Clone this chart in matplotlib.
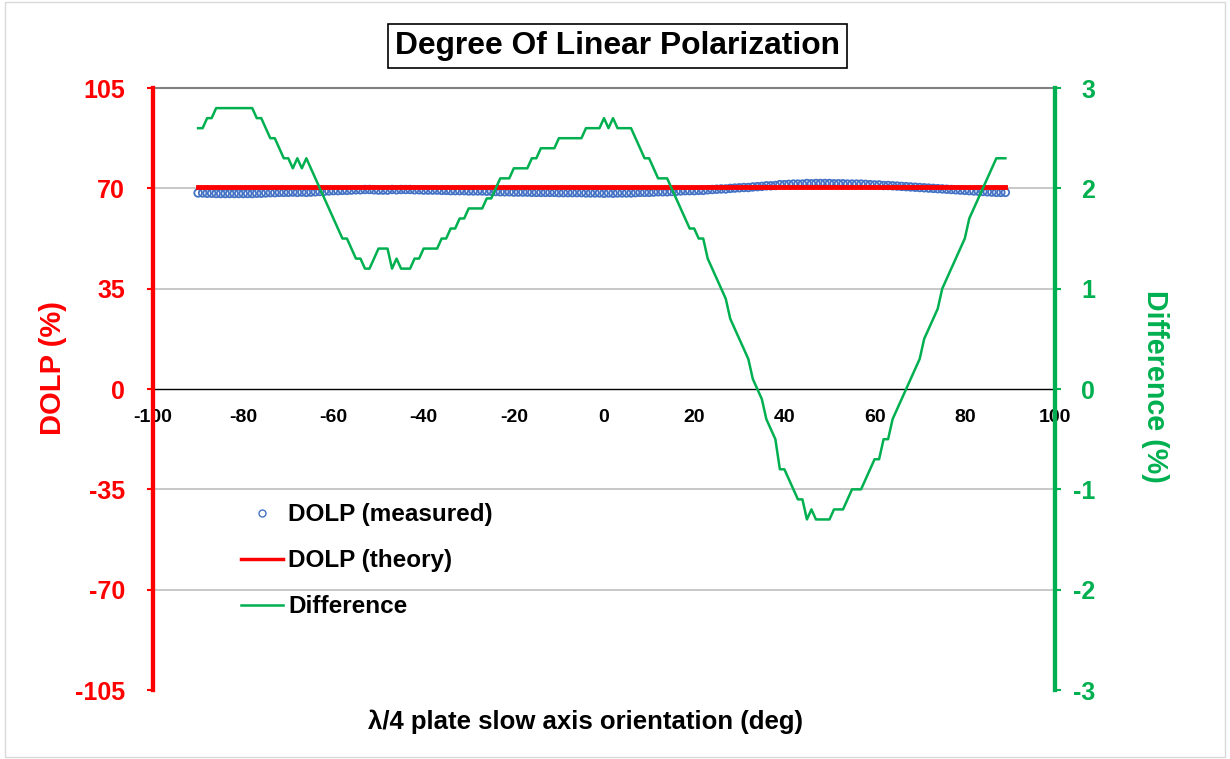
import matplotlib
matplotlib.use("Agg")
import matplotlib.pyplot as plt
from matplotlib.lines import Line2D

plt.rcParams['font.family'] = ['Liberation Sans', 'DejaVu Sans']
plt.rcParams['font.weight'] = 'bold'
plt.rcParams['axes.unicode_minus'] = False

# waveplate angle (deg), one sample per degree
angles = list(range(-90, 90))

# measured DOLP (%)
dolp_measured = [
    68.4, 68.4, 68.3, 68.3, 68.2, 68.2, 68.2, 68.2, 68.2, 68.2,
    68.2, 68.2, 68.2, 68.3, 68.3, 68.4, 68.5, 68.5, 68.6, 68.6,
    68.6, 68.7, 68.6, 68.7, 68.6, 68.7, 68.8, 68.9, 69.0, 69.1,
    69.2, 69.2, 69.3, 69.3, 69.4, 69.5, 69.5, 69.6, 69.6, 69.5,
    69.4, 69.4, 69.4, 69.6, 69.5, 69.6, 69.6, 69.6, 69.5, 69.5,
    69.4, 69.4, 69.4, 69.4, 69.3, 69.3, 69.2, 69.2, 69.2, 69.2,
    69.1, 69.1, 69.1, 69.1, 69.0, 69.0, 68.9, 68.8, 68.8, 68.8,
    68.7, 68.7, 68.7, 68.7, 68.6, 68.6, 68.6, 68.6, 68.6, 68.6,
    68.5, 68.5, 68.5, 68.5, 68.5, 68.5, 68.4, 68.4, 68.4, 68.4,
    68.3, 68.4, 68.3, 68.4, 68.4, 68.4, 68.4, 68.5, 68.6, 68.6,
    68.6, 68.7, 68.8, 68.8, 68.8, 68.9, 69.0, 69.1, 69.2, 69.2,
    69.2, 69.3, 69.3, 69.5, 69.6, 69.7, 69.8, 69.8, 70.0, 70.1,
    70.2, 70.3, 70.3, 70.5, 70.6, 70.7, 70.9, 70.9, 71.0, 71.3,
    71.3, 71.4, 71.5, 71.5, 71.5, 71.7, 71.6, 71.7, 71.7, 71.7,
    71.7, 71.6, 71.6, 71.6, 71.5, 71.5, 71.5, 71.5, 71.4, 71.3,
    71.2, 71.2, 71.0, 71.0, 70.9, 70.8, 70.7, 70.6, 70.5, 70.4,
    70.3, 70.2, 70.1, 70.0, 69.9, 69.8, 69.7, 69.6, 69.5, 69.4,
    69.3, 69.2, 69.1, 69.0, 68.9, 68.8, 68.7, 68.6, 68.6, 68.6,
]

# theoretical DOLP (%), flat red line
dolp_theory = [70.6] * len(angles)

# difference (%), right axis
difference = [
    2.6, 2.6, 2.7, 2.7, 2.8, 2.8, 2.8, 2.8, 2.8, 2.8,
    2.8, 2.8, 2.8, 2.7, 2.7, 2.6, 2.5, 2.5, 2.4, 2.3,
    2.3, 2.2, 2.3, 2.2, 2.3, 2.2, 2.1, 2.0, 1.9, 1.8,
    1.7, 1.6, 1.5, 1.5, 1.4, 1.3, 1.3, 1.2, 1.2, 1.3,
    1.4, 1.4, 1.4, 1.2, 1.3, 1.2, 1.2, 1.2, 1.3, 1.3,
    1.4, 1.4, 1.4, 1.4, 1.5, 1.5, 1.6, 1.6, 1.7, 1.7,
    1.8, 1.8, 1.8, 1.8, 1.9, 1.9, 2.0, 2.1, 2.1, 2.1,
    2.2, 2.2, 2.2, 2.2, 2.3, 2.3, 2.4, 2.4, 2.4, 2.4,
    2.5, 2.5, 2.5, 2.5, 2.5, 2.5, 2.6, 2.6, 2.6, 2.6,
    2.7, 2.6, 2.7, 2.6, 2.6, 2.6, 2.6, 2.5, 2.4, 2.3,
    2.3, 2.2, 2.1, 2.1, 2.1, 2.0, 1.9, 1.8, 1.7, 1.6,
    1.6, 1.5, 1.5, 1.3, 1.2, 1.1, 1.0, 0.9, 0.7, 0.6,
    0.5, 0.4, 0.3, 0.1, 0.0, -0.1, -0.3, -0.4, -0.5, -0.8,
    -0.8, -0.9, -1.0, -1.1, -1.1, -1.3, -1.2, -1.3, -1.3, -1.3,
    -1.3, -1.2, -1.2, -1.2, -1.1, -1.0, -1.0, -1.0, -0.9, -0.8,
    -0.7, -0.7, -0.5, -0.5, -0.3, -0.2, -0.1, 0.0, 0.1, 0.2,
    0.3, 0.5, 0.6, 0.7, 0.8, 1.0, 1.1, 1.2, 1.3, 1.4,
    1.5, 1.7, 1.8, 1.9, 2.0, 2.1, 2.2, 2.3, 2.3, 2.3,
]

x_ticks = [-100, -80, -60, -40, -20, 0, 20, 40, 60, 80, 100]
left_ticks = [-105, -70, -35, 0, 35, 70, 105]
right_ticks = [-3, -2, -1, 0, 1, 2, 3]

RED = '#FF0000'
GREEN = '#00B050'
BLUE = '#4472C4'

fig = plt.figure(figsize=(12.3, 7.59), dpi=100)
ax = fig.add_axes([0.1244, 0.0909, 0.7333, 0.7931])
ax2 = ax.twinx()

# grid lines (Excel style)
for t in left_ticks[1:-1]:
    if t != 0:
        ax.axhline(t, color='#BFBFBF', lw=1.2, zorder=0)

ax.scatter(angles, dolp_measured, s=30, facecolors='none', edgecolors=BLUE,
           linewidths=1.3, zorder=3)
ax.plot(angles, dolp_theory, color=RED, lw=3.5, zorder=4)
ax2.plot(angles, difference, color=GREEN, lw=1.8, zorder=5)

ax.set_xlim(-100, 100)
ax.set_ylim(-105, 105)
ax2.set_ylim(-3, 3)

ax.set_xticks(x_ticks)
ax.set_yticks(left_ticks)
ax2.set_yticks(right_ticks)

ax.spines['bottom'].set_position(('data', 0))
ax.spines['bottom'].set_color('black')
ax.spines['bottom'].set_linewidth(1.0)
ax.spines['top'].set_color('#808080')
ax.spines['top'].set_linewidth(1.5)
for a in (ax, ax2):
    a.spines['left'].set_color(RED)
    a.spines['left'].set_linewidth(3)
    a.spines['right'].set_color(GREEN)
    a.spines['right'].set_linewidth(3)
ax2.spines['top'].set_visible(False)
ax2.spines['bottom'].set_visible(False)

ax.tick_params(axis='x', length=0, pad=14.5, labelsize=14, colors='black')
ax.tick_params(axis='y', length=4, width=1.5, colors=RED, labelsize=18, pad=16)
ax2.tick_params(axis='y', length=4, width=1.5, colors=GREEN, labelsize=18, pad=25)
for lab in ax.get_xticklabels() + ax.get_yticklabels() + ax2.get_yticklabels():
    lab.set_fontweight('bold')
for lab in ax2.get_yticklabels():
    lab.set_horizontalalignment('right')

fig.text(0.0431, 0.5152, 'DOLP (%)', rotation=90, ha='center', va='center',
         color=RED, fontsize=21, fontweight='bold')
fig.text(0.939, 0.4914, 'Difference (%)', rotation=270, ha='center', va='center',
         color=GREEN, fontsize=20.6, fontweight='bold')

fig.text(0.4764, 0.049, 'λ/4 plate slow axis orientation (deg)', ha='center',
         va='center', fontsize=18.5, fontweight='bold')
fig.text(0.502, 0.940, 'Degree Of Linear Polarization', ha='center', va='center',
         fontsize=22.9, fontweight='bold',
         bbox=dict(boxstyle='square,pad=0.22', facecolor='white',
                   edgecolor='black', lw=1.2))

handles = [
    Line2D([], [], ls='none', marker='o', markersize=5, markerfacecolor='none',
           markeredgecolor=BLUE, markeredgewidth=1.0),
    Line2D([], [], color=RED, lw=2.5),
    Line2D([], [], color=GREEN, lw=1.8),
]
labels = ['DOLP (measured)', 'DOLP (theory)', 'Difference']
fig.legend(handles, labels, loc='upper left', bbox_to_anchor=(0.178, 0.366),
           frameon=False, handlelength=1.75, handletextpad=0.2,
           labelspacing=0.95, prop={'weight': 'bold', 'size': 17.5})

# outer chart border
fig.patches.append(plt.Rectangle((0.004, 0.003), 0.992, 0.994, transform=fig.transFigure,
                                 fill=False, edgecolor='#D9D9D9', lw=1))

fig.savefig('out.png', dpi=100)
